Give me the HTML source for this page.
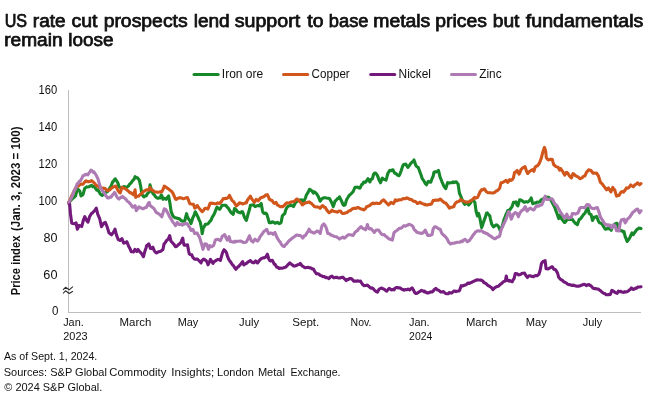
<!DOCTYPE html>
<html><head><meta charset="utf-8">
<style>
html,body{margin:0;padding:0;background:#fff;}
body{width:660px;height:404px;overflow:hidden;position:relative;font-family:"Liberation Sans",sans-serif;}
svg{position:absolute;left:0;top:0;will-change:transform;}
text{font-family:"Liberation Sans",sans-serif;fill:#111;}
</style></head><body>
<svg width="660" height="404" viewBox="0 0 660 404">
<rect width="660" height="404" fill="#fff"/>

<line x1="194.1" y1="74.5" x2="218.1" y2="74.5" stroke="#17882a" stroke-width="3.2" stroke-linecap="round"/>
<line x1="283.6" y1="74.5" x2="307.6" y2="74.5" stroke="#d0561c" stroke-width="3.2" stroke-linecap="round"/>
<line x1="370.8" y1="74.5" x2="394.7" y2="74.5" stroke="#72197b" stroke-width="3.2" stroke-linecap="round"/>
<line x1="451.6" y1="74.5" x2="475.4" y2="74.5" stroke="#ae7ab3" stroke-width="3.2" stroke-linecap="round"/>

<line x1="68.5" y1="90" x2="68.5" y2="313" stroke="#bdbdbd" stroke-width="1"/>
<line x1="68" y1="312.5" x2="641" y2="312.5" stroke="#bdbdbd" stroke-width="1"/>
<text x="4.7" y="26.8" style="font-size:18px;stroke:#111;stroke-width:0.75px;fill:#111;" textLength="22.43" lengthAdjust="spacingAndGlyphs">US</text>
<text x="32.88" y="26.8" style="font-size:18px;stroke:#111;stroke-width:0.75px;fill:#111;" textLength="32.76" lengthAdjust="spacingAndGlyphs">rate</text>
<text x="71.54" y="26.8" style="font-size:18px;stroke:#111;stroke-width:0.75px;fill:#111;" textLength="25.98" lengthAdjust="spacingAndGlyphs">cut</text>
<text x="103.65" y="26.8" style="font-size:18px;stroke:#111;stroke-width:0.75px;fill:#111;" textLength="84.01" lengthAdjust="spacingAndGlyphs">prospects</text>
<text x="193.66" y="26.8" style="font-size:18px;stroke:#111;stroke-width:0.75px;fill:#111;" textLength="36.03" lengthAdjust="spacingAndGlyphs">lend</text>
<text x="234.69" y="26.8" style="font-size:18px;stroke:#111;stroke-width:0.75px;fill:#111;" textLength="65.55" lengthAdjust="spacingAndGlyphs">support</text>
<text x="307.33" y="26.8" style="font-size:18px;stroke:#111;stroke-width:0.75px;fill:#111;" textLength="16.2" lengthAdjust="spacingAndGlyphs">to</text>
<text x="328.83" y="26.8" style="font-size:18px;stroke:#111;stroke-width:0.75px;fill:#111;" textLength="39.65" lengthAdjust="spacingAndGlyphs">base</text>
<text x="373.26" y="26.8" style="font-size:18px;stroke:#111;stroke-width:0.75px;fill:#111;" textLength="57.05" lengthAdjust="spacingAndGlyphs">metals</text>
<text x="435.29" y="26.8" style="font-size:18px;stroke:#111;stroke-width:0.75px;fill:#111;" textLength="51.62" lengthAdjust="spacingAndGlyphs">prices</text>
<text x="492.7" y="26.8" style="font-size:18px;stroke:#111;stroke-width:0.75px;fill:#111;" textLength="26.74" lengthAdjust="spacingAndGlyphs">but</text>
<text x="525.89" y="26.8" style="font-size:18px;stroke:#111;stroke-width:0.75px;fill:#111;" textLength="117.46" lengthAdjust="spacingAndGlyphs">fundamentals</text>
<text x="4.19" y="45.8" style="font-size:18px;stroke:#111;stroke-width:0.75px;fill:#111;" textLength="58.41" lengthAdjust="spacingAndGlyphs">remain</text>
<text x="68.21" y="45.8" style="font-size:18px;stroke:#111;stroke-width:0.75px;fill:#111;" textLength="45.3" lengthAdjust="spacingAndGlyphs">loose</text>
<text x="221.86" y="78.0" style="font-size:12.3px;fill:#111;" textLength="41.36" lengthAdjust="spacingAndGlyphs">Iron ore</text>
<text x="311.59" y="78.0" style="font-size:12.3px;fill:#111;" textLength="38.15" lengthAdjust="spacingAndGlyphs">Copper</text>
<text x="398.6" y="78.0" style="font-size:12.3px;fill:#111;" textLength="32.39" lengthAdjust="spacingAndGlyphs">Nickel</text>
<text x="479.25" y="78.0" style="font-size:12.3px;fill:#111;" textLength="22.29" lengthAdjust="spacingAndGlyphs">Zinc</text>
<text x="38.56" y="93.89999999999999" style="font-size:12.3px;fill:#111;" textLength="18.64" lengthAdjust="spacingAndGlyphs">160</text>
<text x="38.56" y="130.9" style="font-size:12.3px;fill:#111;" textLength="18.64" lengthAdjust="spacingAndGlyphs">140</text>
<text x="38.56" y="167.9" style="font-size:12.3px;fill:#111;" textLength="18.64" lengthAdjust="spacingAndGlyphs">120</text>
<text x="38.56" y="204.9" style="font-size:12.3px;fill:#111;" textLength="18.64" lengthAdjust="spacingAndGlyphs">100</text>
<text x="43.43" y="241.8" style="font-size:12.3px;fill:#111;" textLength="13.98" lengthAdjust="spacingAndGlyphs">80</text>
<text x="43.38" y="278.8" style="font-size:12.3px;fill:#111;" textLength="14.13" lengthAdjust="spacingAndGlyphs">60</text>
<text x="51.99" y="314.6" style="font-size:12.3px;fill:#111;" textLength="6.42" lengthAdjust="spacingAndGlyphs">0</text>
<text x="63.16" y="326.1" style="font-size:11.2px;fill:#111;" textLength="20.54" lengthAdjust="spacingAndGlyphs">Jan.</text>
<text x="119.54" y="326.1" style="font-size:11.2px;fill:#111;" textLength="31.8" lengthAdjust="spacingAndGlyphs">March</text>
<text x="177.66" y="326.1" style="font-size:11.2px;fill:#111;" textLength="20.62" lengthAdjust="spacingAndGlyphs">May</text>
<text x="239.11" y="326.1" style="font-size:11.2px;fill:#111;" textLength="19.97" lengthAdjust="spacingAndGlyphs">July</text>
<text x="292.28" y="326.1" style="font-size:11.2px;fill:#111;" textLength="27.0" lengthAdjust="spacingAndGlyphs">Sept.</text>
<text x="350.59" y="326.1" style="font-size:11.2px;fill:#111;" textLength="20.8" lengthAdjust="spacingAndGlyphs">Nov.</text>
<text x="409.02" y="326.1" style="font-size:11.2px;fill:#111;" textLength="20.65" lengthAdjust="spacingAndGlyphs">Jan.</text>
<text x="466.0" y="326.1" style="font-size:11.2px;fill:#111;" textLength="31.26" lengthAdjust="spacingAndGlyphs">March</text>
<text x="525.82" y="326.1" style="font-size:11.2px;fill:#111;" textLength="21.03" lengthAdjust="spacingAndGlyphs">May</text>
<text x="582.83" y="326.1" style="font-size:11.2px;fill:#111;" textLength="19.4" lengthAdjust="spacingAndGlyphs">July</text>
<text x="63.29" y="340.1" style="font-size:11.2px;fill:#111;" textLength="24.31" lengthAdjust="spacingAndGlyphs">2023</text>
<text x="409.12" y="340.1" style="font-size:11.2px;fill:#111;" textLength="23.2" lengthAdjust="spacingAndGlyphs">2024</text>
<text x="3.91" y="360.0" style="font-size:11.2px;fill:#111;" textLength="93.41" lengthAdjust="spacingAndGlyphs">As of Sept. 1, 2024.</text>
<text x="3.76" y="376.0" style="font-size:11.2px;fill:#111;" textLength="103.18" lengthAdjust="spacingAndGlyphs">Sources: S&amp;P Global</text>
<text x="109.37" y="376.0" style="font-size:11.2px;fill:#111;" textLength="56.96" lengthAdjust="spacingAndGlyphs">Commodity</text>
<text x="171.37" y="376.0" style="font-size:11.2px;fill:#111;" textLength="42.88" lengthAdjust="spacingAndGlyphs">Insights;</text>
<text x="217.05" y="376.0" style="font-size:11.2px;fill:#111;" textLength="36.74" lengthAdjust="spacingAndGlyphs">London</text>
<text x="257.91" y="376.0" style="font-size:11.2px;fill:#111;" textLength="27.01" lengthAdjust="spacingAndGlyphs">Metal</text>
<text x="290.5" y="376.0" style="font-size:11.2px;fill:#111;" textLength="50.06" lengthAdjust="spacingAndGlyphs">Exchange.</text>
<text x="4.28" y="391.0" style="font-size:11.2px;fill:#111;" textLength="97.97" lengthAdjust="spacingAndGlyphs">© 2024 S&amp;P Global.</text>
<text transform="translate(20,295) rotate(-90)" x="-0.29" y="0" style="font-size:12.4px;font-weight:bold;fill:#111;" textLength="59.63" lengthAdjust="spacingAndGlyphs">Price index</text>
<text transform="translate(20,295) rotate(-90)" x="63.92" y="0" style="font-size:12.4px;font-weight:bold;fill:#111;" textLength="104.56" lengthAdjust="spacingAndGlyphs">(Jan. 3, 2023 = 100)</text>

<path d="M63,289.8 L65.5,287.3 L69.2,289.8 L72.9,286.7" fill="none" stroke="#2a2a2a" stroke-width="1.1" stroke-linejoin="round"/>
<path d="M63,293.5 L65.5,290.8 L69.2,293.5 L72.9,291.3" fill="none" stroke="#2a2a2a" stroke-width="1.1" stroke-linejoin="round"/>
<path d="M68.80,202.20 L70.13,201.19 L71.46,199.74 L73.00,198.25 L74.12,197.38 L75.50,196.02 L77.30,189.22 L78.11,189.32 L79.80,190.99 L81.00,196.00 L82.10,194.68 L82.90,194.91 L84.80,188.18 L86.60,186.92 L87.42,186.96 L89.10,186.69 L90.08,185.93 L91.60,185.34 L92.74,186.61 L94.10,186.55 L95.40,188.09 L96.00,189.10 L96.73,190.18 L97.80,189.83 L99.39,192.22 L100.30,194.09 L102.20,195.50 L103.38,194.32 L104.71,192.58 L105.30,192.31 L106.04,192.19 L107.37,191.75 L108.40,190.19 L110.03,187.51 L110.90,186.48 L112.69,181.93 L113.30,181.54 L114.02,180.24 L115.20,178.81 L117.10,181.67 L118.01,183.25 L118.90,186.67 L120.67,187.68 L121.40,188.30 L122.00,187.65 L123.33,186.86 L123.90,186.47 L124.66,186.68 L126.40,187.58 L127.32,186.89 L128.65,185.81 L129.50,184.31 L131.31,182.55 L132.60,180.71 L133.97,179.33 L135.10,176.69 L136.63,177.85 L137.60,177.74 L139.40,180.44 L140.70,186.54 L141.90,194.54 L143.80,196.89 L144.61,196.28 L146.30,195.68 L147.27,193.82 L148.10,192.96 L149.40,191.78 L150.00,184.91 L151.26,189.04 L153.10,194.05 L153.92,194.24 L155.25,196.31 L156.80,197.86 L157.91,198.28 L159.24,197.58 L160.00,197.97 L160.57,196.59 L161.20,194.95 L161.90,195.79 L163.00,199.32 L164.56,198.23 L166.10,199.30 L167.22,197.74 L168.60,195.98 L169.90,202.98 L171.10,211.34 L173.00,216.16 L173.87,216.82 L174.80,217.64 L176.53,217.97 L177.86,218.56 L178.60,218.63 L179.19,218.58 L180.52,220.07 L182.30,221.15 L183.18,221.20 L184.80,220.71 L185.84,216.36 L186.60,213.63 L187.17,216.05 L188.50,218.84 L189.83,220.71 L191.00,223.66 L192.90,217.47 L193.82,215.90 L195.30,211.81 L196.48,214.00 L197.80,216.65 L199.14,219.88 L200.30,222.39 L201.60,228.57 L202.20,233.79 L203.40,227.52 L204.46,226.42 L205.30,224.38 L207.12,224.22 L207.80,223.90 L208.45,223.19 L209.60,221.77 L211.11,220.09 L212.10,217.44 L213.77,214.86 L214.60,213.13 L216.43,208.20 L217.10,207.02 L217.76,207.97 L219.60,209.37 L220.42,208.24 L222.00,205.57 L223.08,205.32 L224.41,205.32 L225.80,205.26 L227.07,206.98 L228.30,208.06 L229.73,210.70 L231.40,213.02 L232.39,213.58 L233.20,214.32 L234.50,208.52 L236.38,210.05 L237.00,211.04 L237.71,211.98 L239.50,212.39 L240.37,212.86 L241.70,211.67 L242.60,211.75 L244.40,217.33 L245.69,219.54 L246.30,220.47 L247.02,218.15 L248.10,213.96 L249.68,208.71 L250.40,205.25 L251.01,205.39 L252.34,204.93 L253.10,204.83 L253.67,204.88 L255.00,206.65 L256.33,206.07 L257.50,205.57 L259.30,205.86 L260.32,204.53 L261.20,203.45 L262.40,210.30 L262.98,212.37 L264.30,213.43 L265.64,213.07 L266.80,214.22 L268.00,218.10 L269.30,222.74 L270.96,222.76 L272.29,221.72 L273.00,222.06 L273.62,222.27 L274.95,223.23 L275.50,223.19 L276.28,222.78 L277.30,222.32 L279.20,223.60 L280.27,223.25 L281.10,222.45 L282.30,216.15 L282.93,215.09 L284.80,213.51 L285.59,210.32 L286.70,207.82 L288.50,205.94 L289.58,205.83 L291.00,204.96 L292.24,205.78 L293.50,206.50 L295.40,202.69 L296.23,202.07 L297.80,200.49 L298.89,200.48 L300.22,200.10 L301.60,199.69 L302.88,201.21 L304.00,201.15 L305.54,197.56 L306.50,194.80 L308.20,192.15 L309.60,189.25 L310.86,190.11 L312.10,191.09 L313.40,193.09 L314.00,191.80 L314.85,192.16 L316.50,193.66 L317.51,195.19 L318.30,196.62 L320.20,201.25 L321.50,199.12 L322.70,198.29 L324.16,197.81 L325.49,197.77 L326.40,197.99 L328.15,198.27 L329.50,198.60 L330.81,200.90 L332.00,203.43 L333.30,206.64 L335.10,200.95 L336.13,200.45 L337.60,198.42 L338.79,198.13 L339.50,196.89 L340.12,198.27 L341.30,200.50 L343.20,204.79 L344.11,205.32 L345.10,204.92 L346.50,199.79 L348.10,197.20 L348.80,195.98 L349.43,195.21 L351.30,193.67 L352.09,192.64 L353.10,191.76 L355.00,187.26 L356.08,187.21 L357.50,187.10 L358.74,187.79 L360.00,188.15 L361.80,184.43 L362.73,184.03 L363.70,181.95 L365.39,182.34 L366.20,181.28 L368.00,178.73 L369.90,181.99 L370.71,179.67 L372.40,178.60 L373.60,174.27 L374.70,172.93 L375.50,172.93 L377.40,175.40 L379.20,180.36 L380.50,182.76 L381.35,180.65 L382.30,178.08 L384.20,179.48 L385.34,179.47 L386.00,180.11 L386.67,177.85 L387.90,173.27 L389.80,170.30 L390.66,170.78 L391.99,170.04 L392.90,169.76 L394.70,173.22 L396.00,173.49 L397.31,175.09 L399.10,175.66 L399.97,173.87 L401.00,171.29 L402.80,165.74 L403.96,164.23 L405.29,164.52 L405.90,164.21 L406.62,165.49 L407.80,167.41 L409.28,165.62 L410.30,164.09 L412.10,161.92 L413.27,161.45 L414.00,159.97 L414.60,161.87 L415.90,165.60 L417.26,167.01 L418.40,167.67 L420.20,172.75 L421.25,175.54 L422.10,178.41 L423.91,180.92 L424.60,182.19 L425.24,183.56 L426.40,184.79 L428.30,181.36 L429.23,182.03 L430.80,182.23 L431.89,178.86 L432.60,177.27 L433.22,175.84 L433.90,172.37 L434.55,171.82 L436.40,171.83 L437.21,171.50 L438.50,170.41 L440.10,177.06 L441.20,179.79 L442.00,181.82 L443.80,185.99 L445.70,188.62 L446.52,186.31 L447.60,182.67 L449.18,183.11 L450.70,182.76 L451.84,182.74 L453.17,181.84 L453.80,182.55 L454.50,182.23 L456.20,181.74 L457.16,182.97 L458.10,183.96 L459.40,193.14 L461.20,197.20 L462.48,200.64 L463.10,201.83 L463.81,203.12 L464.90,204.37 L466.20,202.14 L467.80,204.06 L468.70,205.12 L470.50,202.95 L471.79,200.80 L473.00,199.96 L474.90,202.42 L476.10,211.23 L477.40,215.95 L478.60,213.43 L479.90,218.20 L481.10,224.75 L481.70,227.57 L482.43,225.52 L483.60,221.88 L485.50,216.61 L486.42,213.30 L487.30,212.94 L489.08,215.13 L489.80,215.85 L490.41,218.79 L491.70,224.21 L493.50,226.86 L494.40,226.16 L496.00,224.90 L497.06,224.94 L498.50,226.54 L499.72,229.39 L500.40,231.08 L501.05,229.12 L502.20,226.36 L504.10,219.18 L505.04,217.13 L506.00,214.46 L507.80,210.58 L509.03,210.28 L510.30,209.21 L512.20,206.40 L513.40,202.36 L514.35,202.53 L515.90,201.87 L517.01,204.88 L517.80,205.94 L519.60,199.88 L521.00,200.13 L522.10,200.62 L523.66,202.13 L524.60,202.17 L526.32,201.60 L527.70,202.12 L528.98,201.14 L529.60,200.33 L530.31,199.68 L531.20,197.92 L532.70,203.68 L534.30,203.30 L535.10,203.08 L536.96,202.12 L537.60,202.28 L538.29,202.24 L540.10,201.71 L540.95,199.86 L542.60,199.33 L543.61,198.58 L544.94,197.78 L545.70,196.97 L546.27,196.99 L547.60,197.24 L548.80,197.40 L550.26,199.56 L551.30,200.84 L553.20,204.58 L554.25,206.49 L555.00,208.08 L555.58,209.83 L556.90,213.27 L558.70,218.60 L560.00,215.43 L560.90,217.25 L561.90,219.33 L563.56,221.24 L564.30,222.49 L564.89,222.40 L566.22,220.76 L566.80,220.07 L567.55,219.50 L569.30,219.35 L570.21,219.31 L571.54,219.35 L572.40,219.40 L574.20,222.03 L574.90,222.77 L575.53,223.54 L577.40,224.75 L578.19,222.14 L579.30,219.32 L580.85,218.56 L581.70,217.15 L583.51,214.55 L584.20,213.91 L584.84,213.38 L586.70,209.82 L587.90,208.12 L589.20,213.58 L590.16,214.20 L591.10,214.68 L592.50,220.49 L594.20,217.07 L595.48,217.32 L596.60,216.44 L598.50,221.17 L599.47,222.82 L601.00,223.22 L602.13,224.18 L603.50,226.32 L605.30,229.24 L606.12,229.22 L607.80,227.96 L608.78,228.74 L609.70,228.50 L611.20,230.38 L612.80,225.63 L614.10,224.93 L615.30,223.65 L617.10,223.22 L618.09,226.21 L619.00,229.77 L620.75,230.40 L621.50,230.92 L622.08,230.71 L623.41,232.06 L624.00,231.55 L625.20,236.70 L626.07,238.49 L627.10,241.47 L628.90,239.33 L630.06,237.21 L630.80,235.33 L631.39,234.19 L632.00,232.80 L632.72,233.52 L633.30,234.70 L634.05,233.47 L635.20,231.77 L637.00,229.31 L638.04,228.96 L638.90,228.00 L641.00,228.60" fill="none" stroke="#17882a" stroke-width="3.1" stroke-linejoin="round" stroke-linecap="round"/>
<path d="M68.80,202.20 L70.13,199.74 L71.46,196.31 L73.00,193.60 L74.12,191.21 L75.45,188.28 L76.70,186.64 L78.11,186.20 L79.80,184.84 L80.77,184.03 L82.10,184.29 L82.90,184.15 L84.76,181.94 L85.40,181.07 L86.09,180.79 L87.42,181.73 L88.50,181.62 L90.08,181.55 L91.60,180.54 L92.74,181.70 L94.10,182.91 L95.40,184.28 L97.20,186.04 L98.06,185.95 L99.39,187.57 L100.30,187.33 L102.05,188.41 L103.38,188.03 L104.00,188.71 L104.71,188.31 L106.04,189.42 L107.10,190.50 L108.70,190.24 L110.20,189.57 L111.36,188.27 L112.69,187.49 L113.30,186.91 L114.02,186.66 L115.80,186.03 L116.68,188.01 L118.30,190.94 L119.34,192.35 L120.20,192.83 L122.00,187.35 L123.33,187.86 L124.50,188.26 L125.99,189.35 L127.60,190.56 L128.65,191.38 L129.98,192.75 L130.70,193.02 L131.31,192.81 L132.64,194.24 L133.80,194.90 L135.10,189.80 L135.70,197.37 L136.63,196.40 L137.96,196.29 L138.80,195.95 L140.62,194.19 L141.95,193.41 L142.50,192.28 L143.28,191.84 L144.61,190.78 L146.30,189.93 L147.27,189.61 L148.60,190.21 L149.40,189.22 L150.00,187.55 L151.26,189.56 L152.59,190.40 L153.92,191.19 L155.00,192.00 L156.58,192.07 L157.91,192.35 L159.24,192.09 L160.57,191.64 L161.80,191.89 L163.23,188.94 L164.30,186.17 L165.89,187.05 L167.22,188.12 L168.60,188.99 L169.88,190.20 L171.21,191.04 L173.00,193.27 L173.87,195.28 L175.50,199.14 L176.53,199.36 L177.86,198.28 L179.19,197.91 L179.80,197.46 L180.52,197.93 L181.85,198.08 L182.90,198.74 L184.51,198.41 L185.84,197.91 L187.30,197.49 L188.50,200.19 L189.80,203.68 L191.16,204.08 L192.49,204.29 L193.50,204.35 L194.70,208.12 L196.48,207.04 L197.20,205.52 L197.81,206.38 L199.14,208.16 L200.47,209.84 L202.20,211.68 L203.13,211.05 L204.70,208.55 L205.79,208.21 L207.12,208.85 L207.80,208.99 L208.45,207.74 L210.20,203.18 L211.11,203.02 L212.44,203.44 L213.77,203.40 L214.60,203.68 L216.43,203.68 L217.70,202.86 L219.60,203.48 L220.42,202.83 L221.75,200.99 L223.30,198.65 L224.41,198.75 L225.74,198.21 L227.00,198.39 L228.40,197.25 L229.50,195.39 L231.40,199.19 L232.00,200.36 L233.90,201.94 L235.05,203.92 L236.30,206.03 L237.71,204.88 L239.50,202.82 L240.37,203.10 L241.70,203.48 L242.60,203.94 L244.36,203.37 L245.69,202.69 L246.30,202.85 L247.02,200.96 L248.10,199.11 L249.68,197.08 L250.40,196.21 L251.01,197.70 L252.50,199.81 L253.67,201.38 L254.40,202.25 L255.00,201.55 L256.20,199.37 L258.10,200.85 L258.99,199.87 L260.60,197.81 L261.65,197.36 L262.98,197.08 L263.70,196.61 L264.31,196.51 L265.64,195.08 L267.40,194.68 L268.30,196.73 L269.30,199.11 L270.96,200.13 L271.80,200.22 L273.62,202.81 L274.20,203.37 L274.95,203.06 L276.10,202.45 L277.61,205.17 L278.60,205.59 L280.27,206.74 L281.10,206.67 L282.93,206.62 L284.20,205.40 L285.59,203.92 L286.70,202.85 L288.25,203.01 L289.58,202.77 L290.40,202.24 L292.24,201.73 L294.10,201.58 L294.90,200.75 L296.60,199.07 L297.56,199.35 L299.10,201.13 L300.22,201.76 L301.55,203.60 L302.20,204.84 L302.88,204.66 L304.21,203.59 L305.30,202.89 L306.87,202.54 L308.20,202.15 L309.00,201.92 L310.86,203.13 L311.50,203.48 L312.19,204.24 L313.40,205.48 L314.85,206.77 L316.50,206.94 L317.51,206.92 L318.84,207.16 L319.60,207.72 L320.17,208.25 L321.50,206.43 L322.70,205.53 L324.16,207.29 L325.20,207.24 L327.00,210.35 L328.15,211.60 L328.90,212.74 L329.48,212.49 L330.81,211.68 L332.00,210.21 L333.47,211.30 L334.50,211.42 L336.13,211.83 L337.60,212.22 L338.79,211.01 L340.12,210.97 L340.70,211.32 L341.45,212.50 L342.78,213.56 L343.80,213.57 L345.44,212.83 L346.90,212.61 L348.10,211.58 L349.40,210.66 L350.76,210.25 L352.50,208.70 L353.42,208.36 L354.75,208.20 L355.60,208.51 L357.41,207.70 L358.10,207.25 L358.74,208.06 L360.07,208.49 L361.20,209.10 L362.73,209.39 L363.70,209.87 L365.39,208.74 L366.80,206.47 L368.05,206.24 L369.90,205.43 L370.71,204.51 L372.04,203.60 L373.00,202.97 L374.70,203.74 L376.10,203.00 L377.36,203.36 L379.20,203.57 L380.02,203.36 L381.70,201.12 L382.68,200.50 L383.60,199.91 L385.34,201.69 L386.00,202.32 L386.67,203.12 L388.50,204.98 L389.33,204.16 L391.00,202.41 L391.99,203.06 L393.50,203.60 L394.65,201.41 L395.40,199.75 L396.00,200.57 L397.31,200.61 L398.64,199.71 L399.70,199.89 L401.30,199.69 L402.63,198.85 L403.50,198.54 L405.29,198.70 L406.62,197.85 L407.20,198.09 L407.95,198.33 L409.28,199.13 L410.90,199.48 L411.94,199.83 L413.27,201.27 L414.60,201.29 L415.93,201.84 L417.26,203.43 L418.40,203.23 L419.92,202.19 L421.50,203.23 L422.58,203.66 L423.91,203.99 L424.60,204.72 L425.24,204.37 L426.57,205.06 L427.70,204.87 L429.23,204.36 L430.56,204.36 L431.40,204.10 L433.30,200.32 L434.55,200.55 L435.88,199.93 L437.00,200.16 L438.54,200.18 L440.10,199.08 L441.20,199.87 L442.53,201.26 L443.20,201.68 L443.86,202.26 L445.70,203.21 L446.52,203.97 L447.60,205.40 L449.40,208.23 L450.51,207.25 L451.90,207.31 L453.17,206.68 L453.80,206.80 L454.50,204.65 L455.60,203.05 L457.16,201.82 L458.70,201.45 L459.82,200.83 L460.60,199.41 L462.48,200.86 L463.70,201.14 L465.14,201.94 L466.80,202.24 L467.80,201.98 L469.13,201.63 L470.50,200.76 L471.79,200.24 L473.60,198.35 L474.45,197.44 L475.78,198.11 L477.40,197.62 L478.44,195.58 L479.90,192.05 L481.10,190.47 L481.70,189.68 L482.43,190.03 L484.20,188.81 L485.09,189.86 L486.10,191.45 L487.75,192.59 L489.20,192.74 L490.41,192.78 L491.74,192.96 L493.07,192.86 L494.10,192.73 L495.73,191.43 L497.06,190.60 L497.90,190.29 L499.70,188.21 L501.00,182.74 L502.38,182.53 L504.10,181.64 L505.04,180.99 L506.00,180.38 L507.80,182.36 L509.03,180.39 L509.70,179.72 L510.36,180.44 L512.20,179.80 L513.40,177.77 L514.60,172.36 L515.68,172.14 L517.10,170.44 L518.34,172.79 L519.00,174.17 L519.67,173.18 L520.90,169.66 L522.70,167.95 L523.66,167.35 L525.00,166.60 L526.40,170.85 L527.70,173.50 L528.98,171.97 L530.20,171.00 L531.64,170.15 L532.70,169.58 L533.90,171.31 L535.10,167.28 L536.96,165.82 L537.60,165.72 L538.29,164.85 L539.50,162.95 L541.40,157.91 L542.60,152.78 L543.61,149.87 L544.50,147.35 L545.70,151.15 L546.30,157.69 L547.60,159.42 L548.20,159.91 L548.93,159.74 L550.70,159.20 L551.59,159.18 L552.30,159.38 L552.92,161.83 L553.80,164.76 L555.58,166.23 L556.30,166.68 L556.91,166.94 L558.10,167.27 L559.70,170.20 L560.50,168.52 L562.50,171.12 L563.56,173.15 L564.70,175.07 L566.22,172.57 L566.80,172.38 L567.55,172.90 L569.30,175.65 L570.21,176.87 L571.40,177.96 L573.00,173.63 L574.20,174.29 L575.50,175.53 L576.86,176.29 L578.00,176.80 L579.90,178.63 L580.85,178.46 L582.40,177.52 L583.51,176.28 L584.80,176.06 L586.70,171.88 L587.50,171.42 L588.60,169.81 L590.16,170.18 L591.10,170.52 L592.90,173.21 L594.15,173.05 L595.48,173.25 L596.60,173.12 L598.50,176.16 L599.47,179.28 L600.40,182.26 L602.13,183.84 L602.90,184.79 L603.46,185.66 L604.70,187.33 L606.60,189.86 L607.45,188.64 L608.40,187.98 L610.11,190.68 L610.90,191.86 L612.80,187.44 L614.10,189.68 L614.70,189.75 L615.43,192.35 L616.50,196.06 L618.09,195.58 L619.00,195.39 L620.90,192.26 L622.08,191.67 L623.41,192.15 L624.00,191.04 L624.74,190.75 L626.50,187.90 L627.40,188.21 L628.30,187.96 L630.06,185.99 L630.80,184.98 L631.39,185.71 L632.72,186.31 L633.30,186.67 L634.05,185.76 L635.80,184.21 L636.71,183.92 L637.60,182.77 L639.50,184.76 L641.00,183.60" fill="none" stroke="#d0561c" stroke-width="3.1" stroke-linejoin="round" stroke-linecap="round"/>
<path d="M68.90,203.70 L69.60,203.79 L70.50,213.98 L71.70,223.03 L72.89,223.49 L74.20,223.81 L76.10,222.90 L77.30,229.12 L78.21,227.55 L79.20,225.43 L80.87,225.89 L81.70,226.58 L83.50,219.76 L84.80,216.72 L86.60,220.27 L87.90,222.21 L88.85,219.19 L89.70,216.35 L91.51,213.48 L92.20,213.19 L92.84,212.35 L94.70,210.58 L95.50,209.33 L96.30,208.12 L97.80,214.45 L99.70,218.74 L100.82,223.63 L101.50,226.70 L102.15,225.73 L104.00,222.94 L105.30,222.45 L106.14,224.28 L107.10,226.77 L109.00,232.88 L110.13,233.77 L111.50,234.81 L113.30,232.32 L114.12,230.93 L115.00,229.16 L116.40,234.92 L118.30,239.74 L119.44,240.06 L120.00,240.45 L120.77,239.81 L121.90,238.69 L123.70,243.08 L124.76,242.89 L126.09,242.18 L126.80,241.72 L127.42,243.18 L128.75,246.54 L129.30,247.41 L130.08,248.83 L131.20,251.68 L132.74,251.78 L133.70,251.96 L134.90,249.39 L136.80,251.38 L138.00,249.47 L139.90,251.85 L140.72,252.69 L141.70,253.80 L143.40,256.73 L144.80,251.59 L146.04,247.90 L146.70,245.54 L147.37,245.37 L148.80,243.79 L150.40,248.43 L151.36,248.58 L152.90,247.21 L154.20,250.59 L155.35,252.09 L156.60,252.90 L158.01,252.00 L159.80,251.53 L160.67,251.33 L162.00,250.22 L162.90,249.74 L164.10,243.65 L164.66,243.49 L165.99,241.37 L166.60,240.55 L167.32,239.95 L168.40,238.82 L169.70,235.71 L170.90,241.09 L172.64,243.07 L173.40,243.66 L173.97,244.35 L175.30,246.51 L175.90,246.74 L176.63,246.34 L177.96,245.09 L179.00,244.29 L180.90,242.43 L181.95,239.68 L182.70,238.06 L183.28,241.35 L184.00,244.96 L184.61,245.32 L185.94,245.16 L187.50,244.88 L188.60,250.77 L189.30,253.86 L189.93,254.39 L191.80,254.85 L192.59,257.03 L194.30,259.08 L195.25,259.36 L196.58,258.99 L197.40,259.14 L199.30,261.00 L201.10,262.79 L201.90,260.68 L203.60,259.06 L204.56,259.59 L206.10,260.61 L207.22,262.28 L208.00,264.87 L209.88,261.00 L210.50,259.33 L211.21,260.55 L213.00,263.42 L213.87,261.84 L215.40,260.90 L216.53,260.13 L217.90,259.53 L219.19,259.42 L220.40,260.45 L222.30,253.53 L223.18,251.37 L224.10,249.73 L225.84,251.63 L226.60,253.06 L227.17,255.35 L228.50,258.90 L229.83,260.98 L231.00,262.53 L232.49,264.89 L233.40,265.69 L235.15,268.36 L235.90,269.33 L236.48,268.61 L237.81,266.89 L238.40,266.80 L239.14,265.81 L240.10,264.83 L241.80,262.64 L242.60,261.58 L243.80,264.95 L244.46,264.53 L246.30,263.38 L247.12,262.87 L248.10,261.80 L249.78,261.01 L250.40,260.62 L251.11,261.32 L251.90,262.20 L253.70,262.91 L255.60,260.95 L256.43,262.07 L257.50,262.98 L259.30,260.48 L260.42,259.32 L261.20,258.69 L263.08,257.91 L263.70,257.98 L264.41,257.64 L265.50,257.24 L267.40,254.25 L268.60,258.49 L269.73,260.43 L270.50,260.97 L271.06,260.78 L272.40,260.34 L274.20,264.13 L275.05,264.36 L276.70,267.29 L277.71,267.25 L279.20,268.53 L280.37,268.09 L281.70,268.20 L282.90,267.93 L284.36,267.46 L285.40,267.24 L287.02,265.80 L287.90,264.80 L289.80,262.83 L291.01,263.86 L292.20,264.86 L293.67,265.87 L294.70,266.09 L296.33,265.52 L297.80,264.74 L298.99,264.53 L300.30,263.47 L301.65,265.35 L302.20,266.10 L302.98,266.35 L304.31,267.38 L305.30,267.80 L306.97,267.39 L307.80,267.18 L309.63,267.89 L310.90,267.92 L312.29,268.89 L313.40,269.08 L314.50,271.10 L316.50,273.84 L317.61,273.67 L318.94,274.26 L319.60,274.81 L320.27,275.47 L321.60,275.77 L322.70,276.64 L324.26,276.54 L325.59,277.69 L326.40,277.37 L328.25,278.17 L328.90,278.57 L329.58,277.72 L330.91,276.53 L332.00,276.13 L333.90,277.88 L334.90,277.60 L336.23,277.19 L337.00,277.33 L337.56,277.71 L338.89,277.91 L340.10,277.94 L341.55,277.38 L343.20,277.37 L344.21,278.67 L345.54,279.81 L346.30,280.51 L346.87,279.55 L348.20,279.76 L348.80,279.12 L349.53,278.62 L351.30,278.55 L352.19,279.39 L353.80,281.13 L354.85,280.97 L356.18,281.10 L356.90,281.09 L357.51,280.77 L358.84,281.19 L360.60,281.11 L361.50,282.86 L363.10,284.96 L364.16,285.61 L365.60,285.57 L366.82,285.38 L367.40,285.04 L368.15,285.75 L369.90,287.32 L370.81,288.17 L372.14,287.89 L373.00,288.56 L374.80,290.58 L375.50,291.05 L376.13,291.57 L377.40,292.18 L379.20,289.06 L380.12,288.68 L381.70,288.03 L382.78,288.70 L384.20,289.17 L385.44,290.29 L386.70,291.16 L388.10,289.53 L389.20,288.42 L390.76,289.27 L391.60,289.90 L393.42,289.35 L394.10,289.86 L394.75,288.68 L396.00,287.53 L397.41,287.53 L398.50,288.01 L400.07,287.78 L401.00,288.65 L402.73,289.80 L403.50,289.58 L404.06,290.18 L405.39,289.52 L406.60,289.78 L408.05,289.07 L409.70,289.95 L410.71,288.89 L412.10,287.95 L413.37,289.77 L414.00,291.11 L414.70,292.55 L415.90,293.55 L417.36,293.16 L418.40,292.26 L420.02,291.40 L421.50,290.35 L422.68,290.86 L424.01,291.82 L424.60,291.20 L425.34,292.01 L427.10,292.87 L428.00,293.04 L429.50,292.47 L430.66,291.72 L432.00,292.10 L433.32,291.04 L433.90,289.78 L434.65,289.26 L435.80,288.37 L437.31,289.95 L438.20,289.97 L439.97,291.23 L440.70,292.05 L441.30,291.93 L442.63,291.88 L443.20,291.63 L443.96,292.14 L445.70,293.59 L446.62,293.81 L448.20,293.73 L449.28,292.50 L450.61,292.91 L451.30,293.06 L451.94,292.78 L453.80,291.11 L454.60,291.02 L455.93,291.63 L456.90,291.18 L458.59,291.07 L459.40,290.79 L461.20,285.64 L462.58,285.99 L463.70,285.52 L465.24,284.93 L466.20,284.77 L468.00,282.97 L469.23,283.50 L470.50,282.81 L471.89,282.25 L473.00,281.54 L474.55,280.77 L475.50,280.54 L477.21,279.79 L478.00,280.05 L479.87,280.02 L480.50,280.10 L481.20,279.98 L483.00,281.25 L483.86,282.50 L485.19,283.09 L486.10,283.59 L487.85,285.31 L489.20,286.10 L490.51,287.04 L491.70,287.83 L492.90,289.65 L494.50,288.03 L495.40,287.27 L497.16,286.41 L498.50,286.17 L499.82,284.77 L501.00,283.99 L502.48,282.63 L503.50,281.64 L505.30,281.01 L506.30,276.12 L507.20,280.48 L507.80,280.24 L509.13,281.06 L509.70,280.35 L510.46,281.15 L512.20,281.72 L513.12,279.85 L514.00,278.81 L515.30,273.55 L517.11,273.81 L517.80,274.33 L518.44,274.91 L520.20,274.48 L521.10,274.14 L522.10,273.25 L523.76,273.26 L524.60,273.09 L525.80,275.48 L526.42,275.92 L527.40,277.51 L528.90,275.76 L530.41,275.75 L531.40,276.34 L533.30,276.79 L534.40,276.03 L535.80,275.53 L537.06,275.72 L538.90,274.34 L540.10,270.55 L541.40,263.83 L542.38,262.15 L543.20,261.36 L545.10,260.69 L546.10,268.69 L548.20,268.85 L549.03,268.44 L550.70,267.48 L551.69,266.91 L552.50,266.87 L553.80,269.30 L555.60,269.82 L557.50,272.89 L558.70,277.30 L560.00,278.77 L561.00,279.72 L562.33,280.19 L563.10,281.22 L563.66,281.54 L564.99,282.32 L566.20,282.86 L567.65,284.25 L569.30,284.62 L570.31,284.86 L571.64,285.44 L572.40,285.34 L572.97,284.97 L574.30,285.47 L576.10,286.09 L576.96,286.29 L578.29,286.12 L579.90,285.97 L580.95,285.34 L582.28,285.02 L583.00,284.66 L583.61,284.26 L584.20,284.41 L584.94,284.43 L586.30,285.65 L587.60,284.86 L589.20,284.61 L590.26,285.50 L591.10,285.92 L592.90,288.01 L594.25,288.64 L596.00,288.61 L596.91,289.00 L598.24,289.01 L599.10,289.73 L600.90,291.10 L602.20,292.30 L603.56,293.19 L604.70,293.43 L606.22,294.77 L607.20,294.76 L608.88,294.60 L610.30,294.51 L611.90,290.37 L612.87,290.89 L614.00,291.61 L615.90,292.92 L617.10,293.40 L618.40,291.08 L619.52,291.74 L620.85,291.33 L621.50,291.86 L622.18,291.97 L624.00,292.42 L624.84,291.66 L626.17,291.95 L627.10,291.63 L628.83,290.56 L629.60,289.68 L630.16,289.70 L631.40,287.95 L633.30,289.41 L634.15,289.14 L635.80,287.99 L636.81,288.24 L637.60,287.04 L639.47,287.00 L641.00,286.70" fill="none" stroke="#72197b" stroke-width="3.1" stroke-linejoin="round" stroke-linecap="round"/>
<path d="M68.80,202.20 L70.13,200.27 L71.70,197.38 L72.79,194.59 L74.12,190.61 L74.80,189.91 L75.45,188.67 L77.30,183.46 L78.11,183.42 L79.44,181.15 L80.40,180.86 L82.10,177.76 L82.90,175.98 L84.76,175.06 L85.40,174.28 L86.09,174.39 L87.90,174.86 L88.75,173.21 L90.08,171.62 L91.00,170.07 L92.74,171.44 L93.50,172.51 L94.07,171.97 L95.40,174.03 L96.60,176.03 L98.06,179.17 L99.00,182.53 L100.90,188.63 L102.05,190.18 L102.80,191.12 L103.38,191.86 L104.71,193.52 L105.30,194.92 L106.04,196.01 L107.70,197.95 L108.70,197.87 L110.03,197.05 L110.90,197.25 L112.69,194.73 L114.02,193.14 L114.60,192.46 L115.35,193.65 L117.00,197.10 L118.01,198.35 L118.90,199.03 L120.67,197.37 L122.00,197.34 L122.60,196.47 L123.33,197.11 L124.66,198.21 L126.40,199.91 L127.32,201.23 L128.65,202.02 L130.10,203.62 L131.31,205.10 L132.60,207.14 L133.97,206.97 L135.10,205.58 L136.30,210.65 L137.96,208.37 L138.80,206.93 L140.62,207.70 L141.95,208.32 L142.50,208.82 L143.28,208.70 L144.61,207.84 L146.30,207.51 L147.27,205.39 L148.60,202.82 L149.40,202.50 L150.00,205.66 L151.26,206.35 L152.59,207.47 L153.70,208.24 L155.25,210.74 L156.20,212.40 L157.91,213.41 L159.30,214.13 L160.57,215.46 L161.80,216.79 L163.23,212.16 L164.30,208.78 L165.89,209.56 L166.80,211.24 L168.55,214.41 L169.30,216.29 L169.88,217.17 L171.70,219.78 L172.54,221.63 L174.20,223.62 L175.50,225.64 L176.53,223.89 L177.30,222.45 L177.86,223.09 L179.19,224.52 L179.80,224.35 L180.52,224.29 L182.30,225.07 L183.18,224.63 L184.80,223.63 L185.84,223.41 L187.30,223.74 L188.50,225.90 L189.10,226.75 L189.83,227.54 L191.00,230.46 L192.90,229.30 L193.82,231.50 L194.70,233.51 L196.48,233.04 L197.20,233.06 L197.81,234.72 L199.30,236.60 L200.47,240.17 L201.10,242.61 L201.80,244.71 L203.00,249.32 L204.90,243.73 L205.79,244.02 L206.70,244.29 L208.40,249.34 L209.80,245.67 L211.11,246.52 L211.70,246.75 L212.44,246.24 L213.60,245.62 L215.40,239.85 L216.43,239.43 L217.90,239.27 L219.09,239.85 L220.40,240.59 L221.75,237.52 L222.30,236.19 L223.08,235.77 L224.70,234.63 L225.74,237.20 L227.20,240.11 L228.40,238.13 L229.10,236.66 L229.73,238.68 L230.30,241.57 L231.06,241.48 L232.80,241.94 L233.72,242.21 L235.05,241.15 L235.70,241.87 L236.38,241.60 L237.71,241.22 L239.50,241.08 L240.37,240.99 L241.70,241.45 L243.20,242.35 L244.36,242.55 L245.69,242.28 L246.30,241.94 L247.02,240.71 L248.10,238.83 L249.40,235.74 L251.30,240.74 L252.34,241.38 L253.10,242.03 L253.67,240.92 L255.00,239.20 L256.33,240.18 L257.50,241.11 L258.99,239.16 L260.00,236.90 L261.65,234.60 L262.40,233.69 L262.98,232.76 L264.31,231.08 L264.90,230.76 L265.64,230.21 L266.80,229.32 L268.60,233.75 L269.63,233.39 L271.10,233.09 L272.29,233.47 L273.00,234.39 L273.62,233.38 L274.90,232.42 L276.70,236.83 L277.61,238.56 L279.20,240.99 L280.27,242.26 L281.70,244.88 L282.93,245.98 L284.20,246.53 L285.59,244.63 L286.70,243.72 L288.25,241.61 L289.10,240.78 L290.91,239.31 L292.20,238.11 L293.57,237.22 L295.40,236.04 L296.23,235.14 L297.80,235.07 L298.89,235.57 L300.30,235.50 L301.55,236.46 L302.80,238.09 L304.21,235.79 L305.30,235.63 L307.20,232.45 L308.20,231.38 L309.00,229.15 L310.86,231.93 L311.50,231.98 L312.19,232.16 L313.40,232.91 L314.50,232.92 L316.18,231.62 L317.10,230.99 L318.84,231.86 L320.20,233.47 L321.50,227.69 L322.10,225.62 L322.83,225.01 L323.90,223.82 L325.80,226.74 L326.82,229.72 L327.70,233.52 L329.48,233.67 L330.10,234.24 L330.81,235.18 L332.14,235.27 L333.30,236.02 L334.80,236.47 L336.40,236.72 L337.46,237.56 L338.79,238.19 L339.50,239.06 L340.12,238.40 L341.45,238.06 L342.00,237.43 L342.78,237.05 L344.11,238.19 L345.10,237.85 L346.77,235.95 L347.50,235.43 L348.10,234.81 L349.43,234.70 L350.60,234.79 L352.09,235.18 L353.10,235.47 L355.00,232.40 L356.08,231.44 L357.41,230.70 L358.10,229.32 L358.74,229.13 L360.07,227.38 L361.00,226.53 L363.10,228.71 L364.06,228.65 L365.60,229.79 L366.72,226.95 L367.40,224.52 L368.05,226.73 L368.70,228.11 L369.38,228.84 L371.10,228.61 L372.04,229.77 L373.37,231.05 L374.20,232.49 L376.10,230.12 L377.36,230.02 L378.60,230.04 L380.02,232.17 L381.70,234.36 L382.68,234.71 L384.20,234.60 L385.34,235.97 L386.70,236.86 L388.00,238.14 L389.80,239.33 L390.66,239.41 L392.30,240.19 L393.32,235.66 L394.10,232.39 L396.00,231.00 L397.31,230.24 L399.10,228.55 L399.97,228.21 L401.30,228.10 L402.80,226.58 L403.96,225.60 L405.29,226.21 L406.60,225.53 L407.95,225.00 L409.00,224.28 L410.61,224.86 L412.10,225.57 L413.27,227.22 L414.00,229.25 L414.60,229.91 L415.93,230.96 L416.50,232.17 L417.26,232.28 L418.59,232.87 L419.60,232.90 L421.25,233.45 L422.70,233.05 L423.91,232.03 L425.20,230.13 L426.57,232.98 L427.70,235.38 L429.23,235.23 L430.20,235.38 L432.00,234.68 L433.30,228.44 L434.55,227.03 L435.10,226.62 L435.88,226.86 L437.60,227.95 L438.54,228.77 L440.10,229.21 L441.20,231.82 L442.00,233.56 L444.40,235.88 L445.19,236.37 L446.90,238.63 L447.85,240.30 L448.80,242.40 L450.70,244.05 L451.84,243.25 L452.50,243.31 L453.17,243.38 L454.50,242.86 L455.60,242.90 L457.16,242.27 L458.70,242.24 L459.82,242.32 L461.15,241.14 L461.80,240.93 L462.48,241.56 L463.81,239.97 L464.90,239.23 L466.47,240.60 L467.40,241.79 L469.13,240.67 L470.50,238.93 L471.79,237.21 L473.00,235.34 L474.45,233.61 L475.50,232.10 L477.11,230.97 L478.00,230.81 L479.77,231.13 L481.10,230.63 L481.70,231.03 L482.43,231.19 L483.76,232.60 L484.80,232.60 L486.42,233.64 L487.30,233.48 L489.08,235.33 L489.80,235.29 L490.41,236.14 L491.74,236.75 L492.30,237.36 L493.07,237.79 L494.80,238.78 L495.73,238.47 L497.30,237.05 L498.39,236.93 L499.70,235.98 L501.00,229.84 L502.38,227.08 L503.50,224.69 L505.30,220.94 L506.37,218.46 L507.20,215.94 L508.40,211.72 L509.03,211.83 L509.70,213.09 L510.36,215.86 L511.30,219.22 L513.40,214.21 L514.35,213.38 L515.30,212.48 L517.10,213.61 L518.40,216.77 L519.67,213.49 L520.90,211.56 L522.33,209.96 L523.30,209.87 L525.20,206.54 L526.32,209.19 L527.10,211.13 L528.98,208.92 L529.60,208.50 L530.31,208.08 L532.00,209.40 L532.97,209.79 L533.90,209.87 L535.63,207.05 L536.40,206.19 L536.96,205.69 L538.29,206.30 L539.50,205.66 L540.95,205.15 L542.00,204.54 L543.80,199.86 L545.10,196.17 L546.27,198.66 L546.90,199.53 L547.60,199.35 L549.40,199.28 L550.26,199.10 L551.90,198.72 L552.92,200.05 L553.80,201.98 L555.58,204.89 L556.30,204.91 L556.91,205.65 L558.70,209.01 L560.00,211.30 L560.90,212.95 L562.50,215.05 L563.56,216.22 L564.30,218.08 L564.89,217.83 L566.22,215.33 L566.80,214.12 L567.55,215.88 L568.70,218.24 L570.21,217.15 L571.20,217.49 L572.40,213.47 L574.20,213.62 L575.50,214.10 L576.86,213.33 L578.00,212.96 L579.90,208.08 L580.85,207.48 L582.40,207.44 L583.51,207.56 L584.80,207.93 L586.70,204.83 L587.50,204.54 L589.20,205.01 L590.16,206.98 L591.70,208.09 L592.82,208.56 L594.20,208.61 L595.48,207.95 L597.30,207.62 L598.14,209.80 L599.10,212.51 L600.40,216.95 L602.13,219.53 L602.90,220.72 L603.46,221.81 L605.30,224.33 L606.12,224.35 L607.80,225.59 L608.78,224.84 L609.70,224.93 L611.60,228.01 L612.77,225.52 L613.40,224.78 L614.10,224.75 L615.30,226.51 L616.50,230.82 L618.09,230.81 L619.00,230.93 L620.20,223.03 L621.50,219.75 L622.08,219.82 L623.41,219.35 L624.00,219.18 L625.20,222.93 L626.07,221.66 L627.10,219.46 L628.90,217.91 L630.06,216.67 L630.80,215.34 L631.39,214.61 L632.72,212.37 L633.30,211.91 L634.05,211.49 L635.80,209.89 L636.71,209.20 L637.60,209.05 L639.50,212.81 L641.00,210.80" fill="none" stroke="#ae7ab3" stroke-width="3.1" stroke-linejoin="round" stroke-linecap="round"/>
</svg>
</body></html>
